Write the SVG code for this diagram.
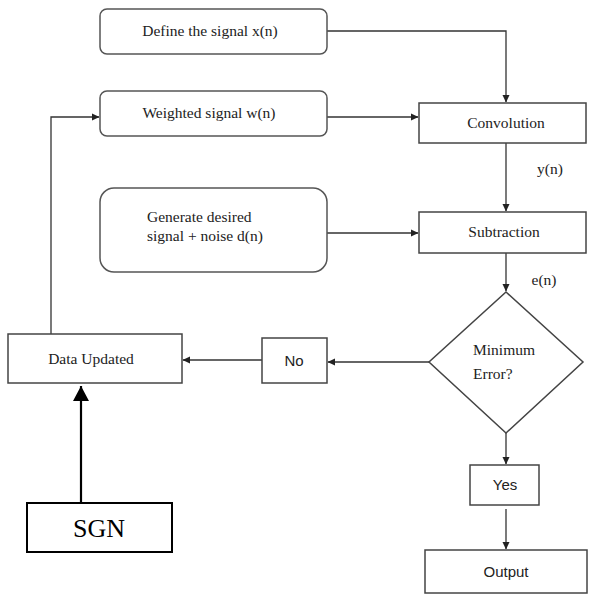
<svg xmlns="http://www.w3.org/2000/svg" width="589" height="595" viewBox="0 0 589 595">
<style>
.rbox{fill:#fff;stroke:#555;stroke-width:1.5}
.box{fill:#fff;stroke:#444;stroke-width:1.5}
.sbox{fill:#fff;stroke:#000;stroke-width:2}
.ser{font-family:"Liberation Serif","Times New Roman",serif;font-size:15.5px;fill:#222}
.sans{font-family:"Liberation Sans",Arial,sans-serif;font-size:15px;fill:#222}
.conn{fill:none;stroke:#333;stroke-width:1.3}
.thick{fill:none;stroke:#000;stroke-width:2.2}
</style>
<defs>
<marker id="ah" markerWidth="8" markerHeight="8" refX="7" refY="4" orient="auto" markerUnits="userSpaceOnUse">
<path d="M0,0.5 L7.5,4 L0,7.5 Z" fill="#222"/>
</marker>
<marker id="big" markerWidth="17" markerHeight="17" refX="15" refY="8" orient="auto" markerUnits="userSpaceOnUse">
<path d="M0,0 L15,8 L0,16 Z" fill="#000"/>
</marker>
</defs>
<g id="connectors">
<path class="conn" d="M327,31 H506 V102" marker-end="url(#ah)"/>
<path class="conn" d="M327,117 H418" marker-end="url(#ah)"/>
<path class="conn" d="M506,143 V211" marker-end="url(#ah)"/>
<path class="conn" d="M327,233 H418" marker-end="url(#ah)"/>
<path class="conn" d="M506,253 V291" marker-end="url(#ah)"/>
<path class="conn" d="M429,362 H328" marker-end="url(#ah)"/>
<path class="conn" d="M262,360 H183" marker-end="url(#ah)"/>
<path class="conn" d="M51,334 V117 H99" marker-end="url(#ah)"/>
<path class="conn" d="M506,433 V464" marker-end="url(#ah)"/>
<path class="conn" d="M506,509 V549" marker-end="url(#ah)"/>
<path class="thick" d="M81,503 V386" marker-end="url(#big)"/>
<text class="ser" x="550" y="174" text-anchor="middle">y(n)</text>
<text class="ser" x="544" y="285" text-anchor="middle">e(n)</text>
</g>
<g id="define">
<rect class="rbox" x="100" y="9" width="227" height="45" rx="7"/>
<text class="ser" x="210" y="36" text-anchor="middle">Define the signal x(n)</text>
</g>
<g id="weighted">
<rect class="rbox" x="100" y="91" width="227" height="45" rx="7"/>
<text class="ser" x="209" y="118" text-anchor="middle">Weighted signal w(n)</text>
</g>
<g id="generate">
<rect class="rbox" x="100" y="188" width="227" height="84" rx="14"/>
<text class="ser" x="147" y="222">Generate desired</text>
<text class="ser" x="147" y="241">signal + noise d(n)</text>
</g>
<g id="convolution">
<rect class="box" x="419" y="103" width="167" height="40"/>
<text class="ser" x="506" y="128" text-anchor="middle">Convolution</text>
</g>
<g id="subtraction">
<rect class="box" x="419" y="212" width="167" height="41"/>
<text class="ser" x="504" y="237" text-anchor="middle">Subtraction</text>
</g>
<g id="decision">
<polygon class="box" points="506,292 583,362 506,433 429,362"/>
<text class="ser" x="473" y="355">Minimum</text>
<text class="ser" x="473" y="379">Error?</text>
</g>
<g id="no">
<rect class="box" x="262" y="338" width="65" height="45"/>
<text class="sans" x="294" y="366" text-anchor="middle">No</text>
</g>
<g id="data-updated">
<rect class="box" x="8" y="334" width="174" height="49"/>
<text class="ser" x="91" y="364" text-anchor="middle">Data Updated</text>
</g>
<g id="sgn">
<rect class="sbox" x="27" y="503" width="145" height="49"/>
<text x="99" y="537" text-anchor="middle" font-family="'Liberation Serif','Times New Roman',serif" font-size="26" fill="#000">SGN</text>
</g>
<g id="yes">
<rect class="box" x="470" y="465" width="69" height="40"/>
<text class="sans" x="505" y="490" text-anchor="middle">Yes</text>
</g>
<g id="output">
<rect class="box" x="425" y="550" width="162" height="43"/>
<text class="sans" x="506" y="577" text-anchor="middle">Output</text>
</g>
</svg>
